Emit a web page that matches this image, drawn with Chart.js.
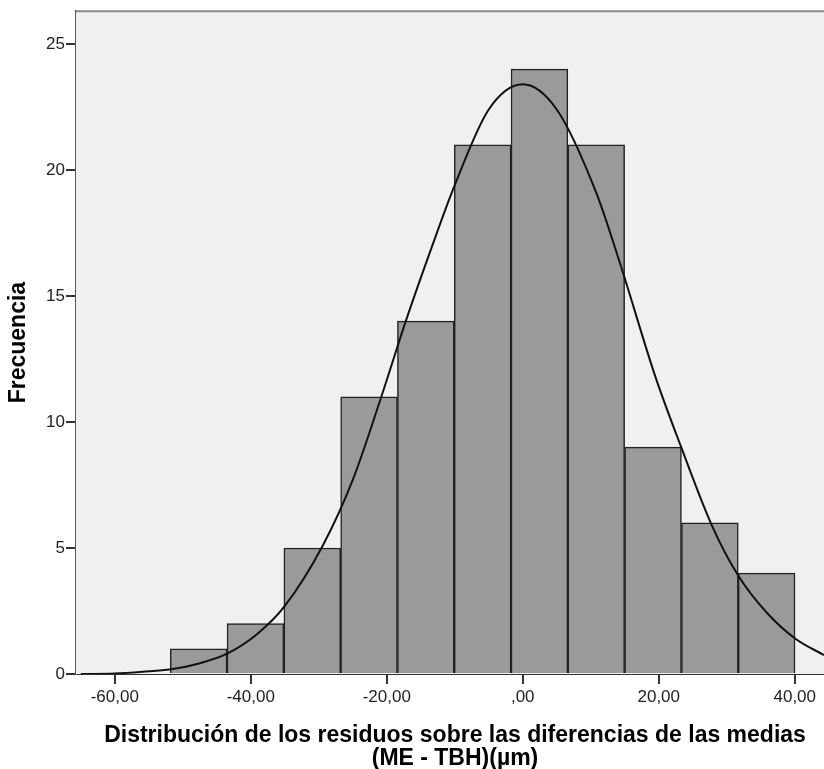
<!DOCTYPE html>
<html>
<head>
<meta charset="utf-8">
<script src="https://cdn.jsdelivr.net/npm/chart.js@4/dist/chart.umd.min.js"></script>
<style>
  html, body { margin: 0; padding: 0; background: #fff; }
  #wrap { width: 824px; height: 769px; }
</style>
</head>
<body>
<div id="wrap"><canvas id="myChart" width="824" height="769"></canvas></div>
<script>
// Histogram of residuals (SPSS style) with the fitted normal curve

// bin edges
const binEdges = [-51.84, -43.49, -35.13, -26.78, -18.43, -10.08, -1.72, 6.63, 14.98, 23.34, 31.69, 40.04];
// frequency per bin
const counts = [1, 2, 5, 11, 14, 21, 24, 21, 9, 6, 4];

// normal curve, points
const curveX = [-65.0, -60.0, -55.9, -51.7, -47.6, -43.4, -39.0, -35.1, -29.4, -25.0, -20.8, -17.2, -13.7, -10.0, -5.0, 0.0,
                5.0, 10.8, 14.3, 19.5, 23.3, 27.8, 31.7, 36.0, 40.1, 44.3];
const curveY = [0.0, 0.02, 0.09, 0.19, 0.42, 0.82, 1.6, 2.66, 5.1, 7.7, 11.0, 14.0, 16.7, 19.4, 22.4, 23.4,
                22.4, 19.1, 16.3, 11.8, 9.0, 5.9, 3.9, 2.4, 1.4, 0.75];

const xTitle = ['Distribución de los residuos sobre las diferencias de las medias', '(ME - TBH)(µm)'];
const yTitle = 'Frecuencia';

const bars = counts.map((c, i) => ({ x: (binEdges[i] + binEdges[i + 1]) / 2, y: c }));
const curve = curveX.map((x, i) => ({ x: x, y: curveY[i] }));

const FONT = '"Liberation Sans", Arial, sans-serif';

// grey plot background + top frame line + x title
const spssFrame = {
    id: 'spssFrame',
    beforeDatasetsDraw(chart) {
        const { ctx, chartArea: a } = chart;
        ctx.save();
        ctx.fillStyle = '#f0f0f0';
        ctx.fillRect(a.left, a.top, a.right - a.left, a.bottom - a.top);
        ctx.restore();
    },
    afterDraw(chart) {
        const { ctx, chartArea: a } = chart;
        ctx.save();
        ctx.strokeStyle = '#8a8a8a';
        ctx.lineWidth = 2;
        ctx.beginPath();
        ctx.moveTo(a.left, a.top);
        ctx.lineTo(a.right, a.top);
        ctx.stroke();
        ctx.fillStyle = '#000';
        ctx.font = 'bold 23px ' + FONT;
        ctx.textAlign = 'center';
        ctx.textBaseline = 'alphabetic';
        ctx.fillText(xTitle[0], 455, 742);
        ctx.fillText(xTitle[1], 455, 765);
        ctx.restore();
    }
};

const ctx = document.getElementById('myChart');
new Chart(ctx, {
    type: 'bar',
    data: {
        datasets: [
            {
                type: 'line',
                data: curve,
                borderColor: '#111',
                borderWidth: 2,
                pointRadius: 0,
                cubicInterpolationMode: 'monotone',
                order: 0
            },
            {
                type: 'bar',
                data: bars,
                backgroundColor: '#9a9a9a',
                borderColor: '#222',
                borderWidth: 1.5,
                barPercentage: 1,
                categoryPercentage: 1,
                order: 1
            }
        ]
    },
    options: {
        responsive: false,
        animation: false,
        layout: { padding: { top: 8, left: 0, right: 0, bottom: 0 } },
        plugins: {
            legend: { display: false },
            tooltip: { enabled: false }
        },
        scales: {
            x: {
                type: 'linear',
                min: -65.7,
                max: 44.3,
                offset: false,
                afterFit: s => { s.height = 95; },
                grid: { offset: false, drawOnChartArea: false, drawTicks: true, tickLength: 10, color: '#333', lineWidth: 2 },
                border: { display: true, color: '#333', width: 2 },
                ticks: {
                    stepSize: 20,
                    includeBounds: false,
                    maxRotation: 0,
                    autoSkip: false,
                    padding: 3,
                    color: '#222',
                    font: { family: FONT, size: 17 },
                    callback: v => v === 0 ? ',00' : v.toFixed(2).replace('.', ',')
                }
            },
            y: {
                min: 0,
                max: 26.3,
                afterFit: s => { s.width = 76; },
                grid: { drawOnChartArea: false, drawTicks: true, tickLength: 10, color: '#333', lineWidth: 2 },
                border: { display: true, color: '#555', width: 2 },
                title: { display: false },
                ticks: {
                    stepSize: 5,
                    includeBounds: false,
                    padding: 1,
                    color: '#222',
                    font: { family: FONT, size: 17 }
                }
            }
        }
    },
    plugins: [spssFrame, {
        id: 'yTitle',
        afterDraw(chart) {
            const { ctx, chartArea: a } = chart;
            ctx.save();
            ctx.translate(19, (a.top + a.bottom) / 2);
            ctx.rotate(-Math.PI / 2);
            ctx.fillStyle = '#000';
            ctx.font = 'bold 23px ' + FONT;
            ctx.textAlign = 'center';
            ctx.textBaseline = 'middle';
            ctx.fillText(yTitle, 0, 0);
            ctx.restore();
        }
    }]
});
</script>
</body>
</html>
